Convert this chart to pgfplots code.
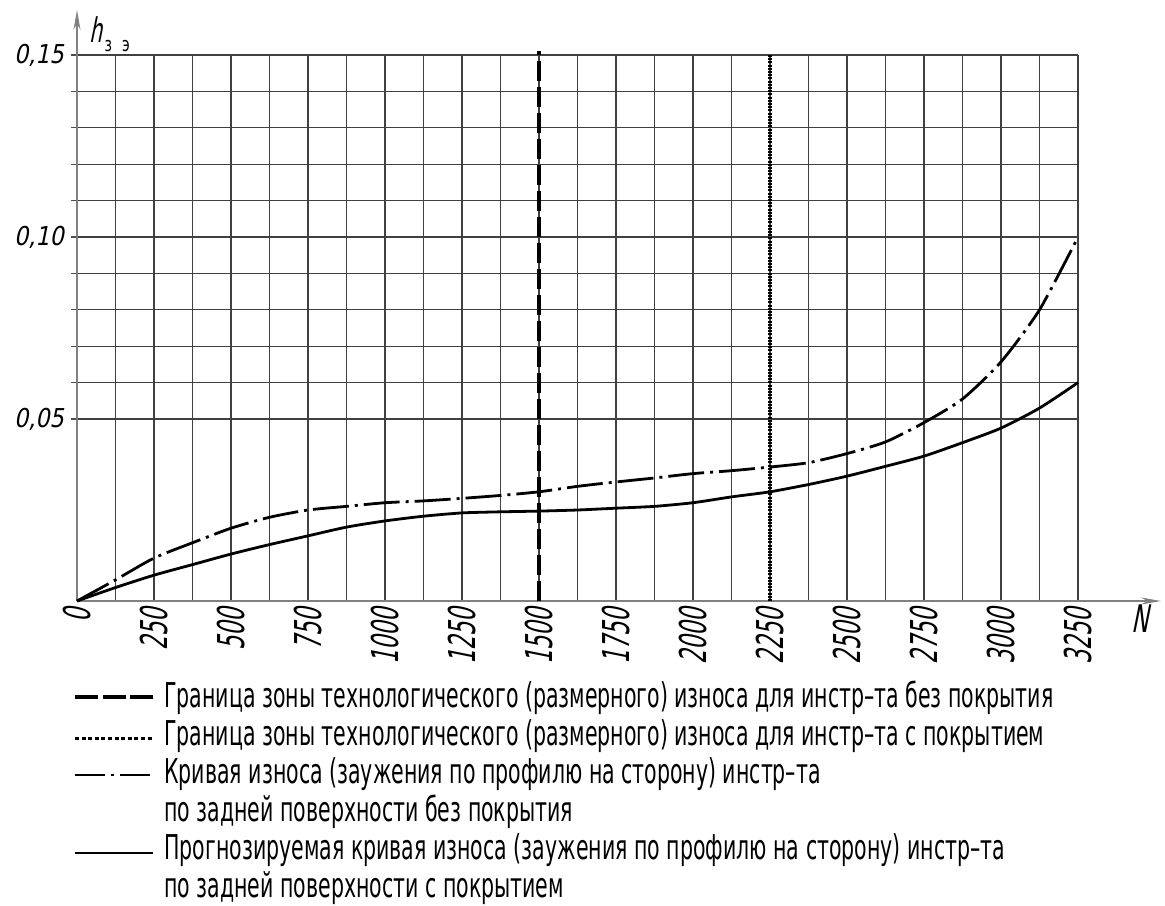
\documentclass[border=0pt]{standalone}
\usepackage{fontspec}
\usepackage{graphicx}
\usepackage{pgfplots}
\pgfplotsset{compat=1.18}
\usetikzlibrary{arrows.meta}
\setmainfont{DejaVu Sans}
\newfontfamily\gostbase{DejaVu Sans}
\newfontfamily\gostx[FakeStretch=0.6,FakeSlant=0.2]{DejaVu Sans}
\newfontfamily\gosty[FakeStretch=0.86,FakeSlant=0.2]{DejaVu Sans}
\newlength\refw

\pgfplotstableread{
x y
0 0
125 0.0058
250 0.0118
375 0.016
500 0.0200
625 0.023
750 0.0250
875 0.026
1000 0.0270
1125 0.0275
1250 0.0282
1375 0.029
1500 0.0300
1625 0.0315
1750 0.0327
1875 0.0338
2000 0.0350
2125 0.0358
2250 0.0368
2375 0.038
2500 0.0405
2625 0.0437
2750 0.049
2875 0.0555
3000 0.0657
3125 0.080
3250 0.100
}\uncoated

\pgfplotstableread{
x y
0 0
125 0.0037
250 0.0071
375 0.010
500 0.0129
625 0.0155
750 0.0179
875 0.0203
1000 0.022
1125 0.0233
1250 0.0242
1375 0.0245
1500 0.0247
1625 0.025
1750 0.0255
1875 0.026
2000 0.027
2125 0.0286
2250 0.030
2375 0.032
2500 0.0343
2625 0.037
2750 0.0398
2875 0.0435
3000 0.0475
3125 0.053
3250 0.060
}\coated

\settowidth\refw{\gostbase\fontsize{17.1}{17.1}\selectfont Граница зоны технологического (размерного) износа для инстр–та без покрытия}%
\pgfmathsetmacro\lf{444.5/\refw}%

\begin{document}%
\begin{tikzpicture}[x=1pt,y=1pt]
\path[use as bounding box] (-38.5,-152) rectangle (544,300.5);
\begin{axis}[
  at={(0,0)}, anchor=south west,
  scale only axis, width=500.5pt, height=273pt,
  xmin=0, xmax=3250, ymin=0, ymax=0.15,
  axis lines=left,
  axis line style={black!50, line width=1pt},
  x axis line style={-{Stealth[length=10pt,width=3.5pt]}, shorten >=-41.5pt},
  y axis line style={-{Stealth[length=10pt,width=3.5pt]}, shorten >=-22.5pt},
  xtick={0,250,...,3250},
  xticklabels={0,250,500,750,1000,1250,1500,1750,2000,2250,2500,2750,3000,3250},
  ytick={0.05,0.1,0.15},
  yticklabels={{0,05},{0,10},{0,15}},
  x tick label style={font=\gostx\fontsize{18.5}{18.5}\selectfont, rotate=90, anchor=east, inner sep=0.5pt},
  y tick label style={font=\gosty\fontsize{13}{13}\selectfont, anchor=east},
  minor x tick num=1, minor y tick num=4,
  grid=both,
  major grid style={black!75, line width=0.6pt},
  minor grid style={black!75, line width=0.6pt},
  tick align=outside, major tick length=3pt, minor tick length=3pt,
  xtick style={draw=none}, minor x tick style={draw=none},
  ytick style={black!70, line width=0.6pt}, minor y tick style={black!70, line width=0.6pt},
  clip=false,
]
\addplot[black, line width=2pt, dash pattern=on 10pt off 3pt] coordinates {(1500,0) (1500,0.151)};
\addplot[black, line width=2pt, dash pattern=on 1pt off 0.6pt] coordinates {(2250,0) (2250,0.15)};
\addplot[black, line width=1.4pt, smooth, tension=0.4, dash pattern=on 18pt off 3pt on 1.5pt off 3pt] table[x=x,y=y] {\uncoated};
\addplot[black, line width=1.4pt, smooth, tension=0.4] table[x=x,y=y] {\coated};
\node[anchor=base west, inner sep=0pt, font=\gostx\fontsize{17}{17}\selectfont] at (axis cs:40,0.1533) {h\hspace{1pt}\raisebox{-4.5pt}{\gostbase\fontsize{10}{10}\selectfont\scalebox{0.7}[1]{з}\hspace{5pt}\scalebox{0.7}[1]{э}}};
\node[font=\gostx\fontsize{19}{19}\selectfont] at (axis cs:3451,-0.0049) {N};
\end{axis}
% legend
\draw[black, line width=2pt, dash pattern=on 11.5pt off 2.25pt] (-1,-48) -- (38,-48);
\draw[black, line width=1.5pt, dash pattern=on 2pt off 1.3pt] (-1,-68.5) -- (38,-68.5);
\draw[black, line width=1.2pt, dash pattern=on 15pt off 3pt on 1.5pt off 3pt] (-1,-87) -- (38,-87);
\draw[black, line width=1.2pt] (-1,-126) -- (38,-126);
\begin{scope}[every node/.style={anchor=base west, inner sep=0pt, font=\gostbase\fontsize{17.1}{17.1}\selectfont}]
\node at (43.5,-53) {\scalebox{\lf}[1]{Граница зоны технологического (размерного) износа для инстр–та без покрытия}};
\node at (43.5,-72) {\scalebox{\lf}[1]{Граница зоны технологического (размерного) износа для инстр–та с покрытием}};
\node at (43.5,-91) {\scalebox{\lf}[1]{Кривая износа (заужения по профилю на сторону) инстр–та}};
\node at (43.5,-110) {\scalebox{\lf}[1]{по задней поверхности без покрытия}};
\node at (43.5,-129) {\scalebox{\lf}[1]{Прогнозируемая кривая износа (заужения по профилю на сторону) инстр–та}};
\node at (43.5,-148) {\scalebox{\lf}[1]{по задней поверхности с покрытием}};
\end{scope}
\end{tikzpicture}
\end{document}
